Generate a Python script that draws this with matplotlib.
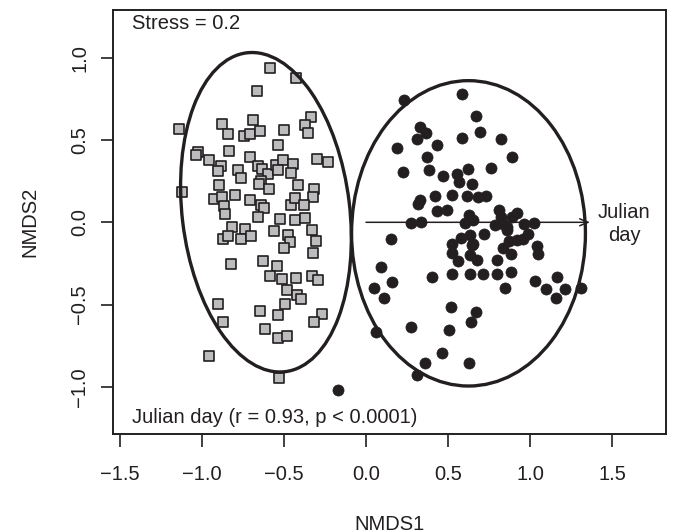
import numpy as np
import matplotlib
matplotlib.use("Agg")
import matplotlib.pyplot as plt
from matplotlib.patches import Ellipse

plt.rcParams["font.family"] = ["Liberation Sans", "DejaVu Sans"]

# group 1 (grey squares), NMDS1 / NMDS2 scores
sq_x = [-0.585, -0.427, -0.666, -1.138, -0.876, -0.687, -0.843, -0.744, -0.707, -0.646,
        -0.502, -0.335, -0.372, -0.352, -0.538, -0.835, -1.023, -1.037, -0.957, -0.884,
        -0.901, -0.705, -0.779, -0.762, -0.657, -0.636, -0.596, -0.549, -0.504, -0.535,
        -0.443, -0.459, -0.301, -0.230, -0.895, -1.120, -0.640, -0.651, -0.591, -0.413,
        -0.317, -0.321, -0.927, -0.876, -0.799, -0.705, -0.642, -0.622, -0.459, -0.433,
        -0.376, -0.864, -0.860, -0.657, -0.524, -0.433, -0.372,
        -0.819, -0.738, -0.870, -0.843, -0.764, -0.701, -0.559, -0.474, -0.463, -0.498,
        -0.331, -0.305, -0.321, -0.825, -0.630, -0.545, -0.585, -0.510, -0.427, -0.331,
        -0.295, -0.484, -0.423, -0.398, -0.494, -0.538, -0.646, -0.901, -0.870, -0.270,
        -0.315, -0.616, -0.538, -0.480, -0.957, -0.529]
sq_y = [0.935, 0.877, 0.796, 0.568, 0.594, 0.624, 0.538, 0.523, 0.535, 0.553,
        0.559, 0.641, 0.588, 0.541, 0.467, 0.432, 0.426, 0.410, 0.380, 0.339,
        0.311, 0.396, 0.315, 0.268, 0.339, 0.321, 0.293, 0.350, 0.380, 0.315,
        0.356, 0.301, 0.382, 0.364, 0.228, 0.184, 0.248, 0.235, 0.200, 0.228,
        0.204, 0.153, 0.139, 0.153, 0.164, 0.133, 0.107, 0.087, 0.107, 0.147,
        0.107, 0.099, 0.053, 0.032, 0.018, 0.012, 0.028,
        -0.028, -0.042, -0.103, -0.083, -0.099, -0.085, -0.055, -0.079, -0.119, -0.156,
        -0.048, -0.115, -0.186, -0.256, -0.235, -0.265, -0.327, -0.345, -0.338, -0.327,
        -0.352, -0.412, -0.442, -0.468, -0.499, -0.564, -0.539, -0.497, -0.608, -0.558,
        -0.604, -0.648, -0.705, -0.691, -0.810, -0.947]

# group 2 (black circles)
ci_x = [0.234, 0.587, 0.669, 0.329, 0.364, 0.313, 0.187, 0.435, 0.584, 0.695,
        0.370, 0.227, 0.384, 0.468, 0.553, 0.624, 0.567, 0.645, 0.329, 0.319,
        0.421, 0.523, 0.614, 0.681, 0.431, 0.492, 0.274, 0.335, 0.604, 0.628, 0.654,
        0.823, 0.888, 0.760, 0.732, 0.813, 0.919, 0.888, 0.787, 0.837, 0.858,
        0.963, 1.024, 0.823,
        0.152, 0.091, 0.157, 0.049, 0.110, 0.401, 0.526, 0.634, 0.518, 0.640,
        0.669, 0.508, 0.059, 0.273, 0.462, 0.360, 0.630, 0.309, 0.523, 0.526,
        0.559, 0.579, 0.634, 0.645, 0.634, 0.675,
        0.721, 0.654, 0.858, 0.919, 0.959, 0.990, 0.874, 0.837, 0.882, 0.801,
        1.045, 1.051, 0.715, 0.801, 0.884, 0.848, 1.030, 1.098, 1.163, 1.213,
        1.159, 1.309, -0.169]
ci_y = [0.745, 0.776, 0.648, 0.578, 0.541, 0.507, 0.453, 0.467, 0.513, 0.547,
        0.396, 0.305, 0.315, 0.279, 0.295, 0.325, 0.244, 0.230, 0.138, 0.109,
        0.158, 0.164, 0.158, 0.153, 0.068, 0.073, -0.004, 0.002, -0.004, 0.042, 0.012,
        0.507, 0.396, 0.332, 0.158, 0.073, 0.056, 0.032, -0.018, -0.008, -0.028,
        -0.008, -0.004, 0.032,
        -0.099, -0.271, -0.362, -0.398, -0.462, -0.332, -0.315, -0.315, -0.517, -0.608,
        -0.544, -0.655, -0.665, -0.638, -0.796, -0.853, -0.853, -0.927, -0.129, -0.186,
        -0.235, -0.093, -0.079, -0.139, -0.200, -0.230,
        -0.073, -0.129, -0.048, -0.109, -0.099, -0.073, -0.113, -0.159, -0.194, -0.226,
        -0.145, -0.190, -0.311, -0.315, -0.301, -0.396, -0.356, -0.402, -0.335, -0.408,
        -0.462, -0.396, -1.018]

# group ellipses: centre, full width, full height, rotation (deg)
ell1 = (-0.610, 0.061, 1.022, 1.950, 6.9)
ell2 = (0.625, -0.067, 1.426, 1.854, 0.0)

# fitted vector for Julian day
vec_x, vec_y = 1.366, 0.0

xticks = [-1.5, -1.0, -0.5, 0.0, 0.5, 1.0, 1.5]
yticks = [-1.0, -0.5, 0.0, 0.5, 1.0]

ink = "#231f20"

fig = plt.figure(figsize=(6.74, 5.32), dpi=100)
ax = fig.add_axes([113/674, 1-434/532, 553/674, 424/532])

ax.scatter(sq_x, sq_y, marker="s", s=52, facecolor="#bcbcbe", edgecolor=ink,
           linewidth=1.2, zorder=3)
ax.scatter(ci_x, ci_y, marker="o", s=64, facecolor=ink, edgecolor=ink,
           linewidth=0.5, zorder=3)

for cx, cy, w, h, ang in (ell1, ell2):
    ax.add_patch(Ellipse((cx, cy), w, h, angle=ang, fill=False, edgecolor=ink,
                         linewidth=2.4, zorder=4))

ax.annotate("", xy=(vec_x, vec_y), xytext=(0, 0),
            arrowprops=dict(arrowstyle="->,head_length=0.6,head_width=0.25",
                            color=ink, lw=1.1, shrinkA=0, shrinkB=0), zorder=5)
ax.text(vec_x + 0.21, vec_y - 0.01, "Julian\nday", ha="center", va="center",
        fontsize=14.5, color=ink, linespacing=1.3)

ax.text(0.034, 0.967, "Stress = 0.2", transform=ax.transAxes, ha="left",
        va="center", fontsize=14.5, color=ink)
ax.text(0.034, 0.040, "Julian day (r = 0.93, p < 0.0001)", transform=ax.transAxes,
        ha="left", va="center", fontsize=14.5, color=ink)

ax.set_xlim((113-366)/164, (666-366)/164)
ax.set_ylim((222.3-434)/164.7, (222.3-10)/164.7)
ax.set_xticks(xticks)
ax.set_yticks(yticks)
ax.set_xticklabels(["\u2212%.1f" % abs(v) if v < 0 else "%.1f" % v for v in xticks])
ax.set_yticklabels(["\u2212%.1f" % abs(v) if v < 0 else "%.1f" % v for v in yticks],
                   rotation=90, va="center")
ax.tick_params(direction="out", length=9, width=1.2, colors=ink, labelsize=14.5)
ax.tick_params(axis="x", pad=13.5)
ax.tick_params(axis="y", pad=8)
for sp in ax.spines.values():
    sp.set_linewidth(1.4)
    sp.set_color(ink)

fig.text(390/674, 1-524/532, "NMDS1", ha="center", va="center", fontsize=14.5, color=ink)
fig.text(30/674, 1-222/532, "NMDS2", ha="center", va="center", rotation=90,
         fontsize=14.5, color=ink)

fig.savefig("out.png", dpi=100)
